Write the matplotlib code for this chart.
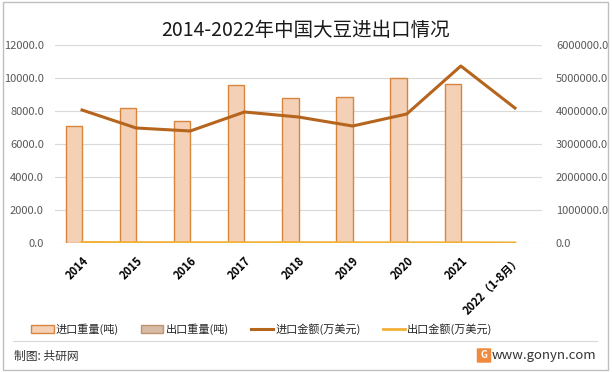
import numpy as np
import matplotlib.pyplot as plt
from matplotlib.patches import Rectangle, FancyBboxPatch
from matplotlib.lines import Line2D

plt.rcParams['font.family'] = ['Noto Sans CJK SC', 'DejaVu Sans']

# data
years = ['2014', '2015', '2016', '2017', '2018', '2019', '2020', '2021', '2022（1-8月）']
import_weight = [7110, 8180, 7390, 9575, 8790, 8850, 10000, 9640, np.nan]  # 吨
export_weight = [21, 13, 13, 11, 13, 11, 8, 9, np.nan]                    # 吨
import_value = [4030000, 3485000, 3394000, 3970000, 3818000, 3545000, 3909000, 5364000, 4090000]
export_value = [17000, 13000, 12000, 10000, 12000, 9000, 7000, 8000, 5000]

C_IMP_BAR = '#F3D0B6'
C_IMP_EDGE = '#D8853E'
C_EXP_BAR = '#D7BBA4'
C_EXP_EDGE = '#C0936F'
C_IMP_LINE = '#B5651D'
C_EXP_LINE = '#F2B035'

fig = plt.figure(figsize=(6.12, 3.72), dpi=100)
ax = fig.add_axes([55 / 612, 1 - 243 / 372, 487 / 612, 198 / 372])
ax2 = ax.twinx()

x = np.arange(len(years))
w = 0.3
ax.bar(x - w / 2, import_weight, width=w, color=C_IMP_BAR, edgecolor=C_IMP_EDGE, linewidth=1, zorder=2)
ax.bar(x + w / 2, export_weight, width=w, color=C_EXP_BAR, edgecolor=C_EXP_EDGE, linewidth=1, zorder=2)
ax2.plot(x, import_value, color=C_IMP_LINE, lw=2.2, zorder=3)
ax2.plot(x, export_value, color=C_EXP_LINE, lw=2.0, zorder=3)

ax.set_xlim(-0.5, len(years) - 0.5)
ax.set_ylim(0, 12000)
ax2.set_ylim(0, 6000000)
ax.set_yticks(np.arange(0, 12001, 2000))
ax2.set_yticks(np.arange(0, 6000001, 1000000))
ax.set_yticklabels([f'{v:.1f}' for v in np.arange(0, 12001, 2000)])
ax2.set_yticklabels([f'{v:.1f}' for v in np.arange(0, 6000001, 1000000)])
ax.grid(axis='y', color='#D9D9D9', lw=0.8, zorder=0)
ax.set_axisbelow(True)

for a in (ax, ax2):
    for s in a.spines.values():
        s.set_visible(False)
    a.tick_params(axis='y', length=0, labelsize=8, labelcolor='#595959')
ax.tick_params(axis='y', pad=8)
ax2.tick_params(axis='y', pad=10)

ax.set_xticks(x)
ax.set_xticklabels(years, rotation=45, ha='right', va='top', rotation_mode='anchor',
                   fontsize=8, fontweight='bold', color='black')
ax.tick_params(axis='x', length=0, pad=8)

fig.text(0.5, 1 - 31 / 372, '2014-2022年中国大豆进出口情况', ha='center', va='center',
         fontsize=14, color='#1a1a1a')

handles = [
    Rectangle((0, 0), 1, 1, facecolor=C_IMP_BAR, edgecolor=C_IMP_EDGE),
    Rectangle((0, 0), 1, 1, facecolor=C_EXP_BAR, edgecolor=C_EXP_EDGE),
    Line2D([0], [0], color=C_IMP_LINE, lw=2.2),
    Line2D([0], [0], color=C_EXP_LINE, lw=2.0),
]
labels = ['进口重量(吨)', '出口重量(吨)', '进口金额(万美元)', '出口金额(万美元)']
fig.legend(handles, labels, loc='center', bbox_to_anchor=(262 / 612, 1 - 329 / 372), ncol=4,
           frameon=False, fontsize=8, handlelength=2.0, handleheight=0.8,
           columnspacing=2.0, handletextpad=0.2, labelcolor='#262626')

# footer
fig.add_artist(Line2D([13 / 612, 597 / 612], [1 - 341 / 372] * 2, color='#D9D9D9', lw=0.8))
fig.text(14 / 612, 1 - 356 / 372, '制图: 共研网', ha='left', va='center', fontsize=8.5, color='#333333')
fig.text(596 / 612, 1 - 355 / 372, 'www.gonyn.com', ha='right', va='center', fontsize=9.5, color='#333333')
fig.add_artist(FancyBboxPatch((478 / 612, 1 - 362 / 372), 12 / 612, 13 / 372,
                              boxstyle='round,pad=0.002', facecolor='#F08A3C', edgecolor='none'))
fig.text(484 / 612, 1 - 355.5 / 372, 'G', ha='center', va='center', fontsize=7,
         fontweight='bold', color='white')

fig.add_artist(Rectangle((3 / 612, 2 / 372), 605 / 612, 368 / 372, fill=False,
                         edgecolor='#BFBFBF', lw=1))

fig.savefig('out.png', dpi=100)
